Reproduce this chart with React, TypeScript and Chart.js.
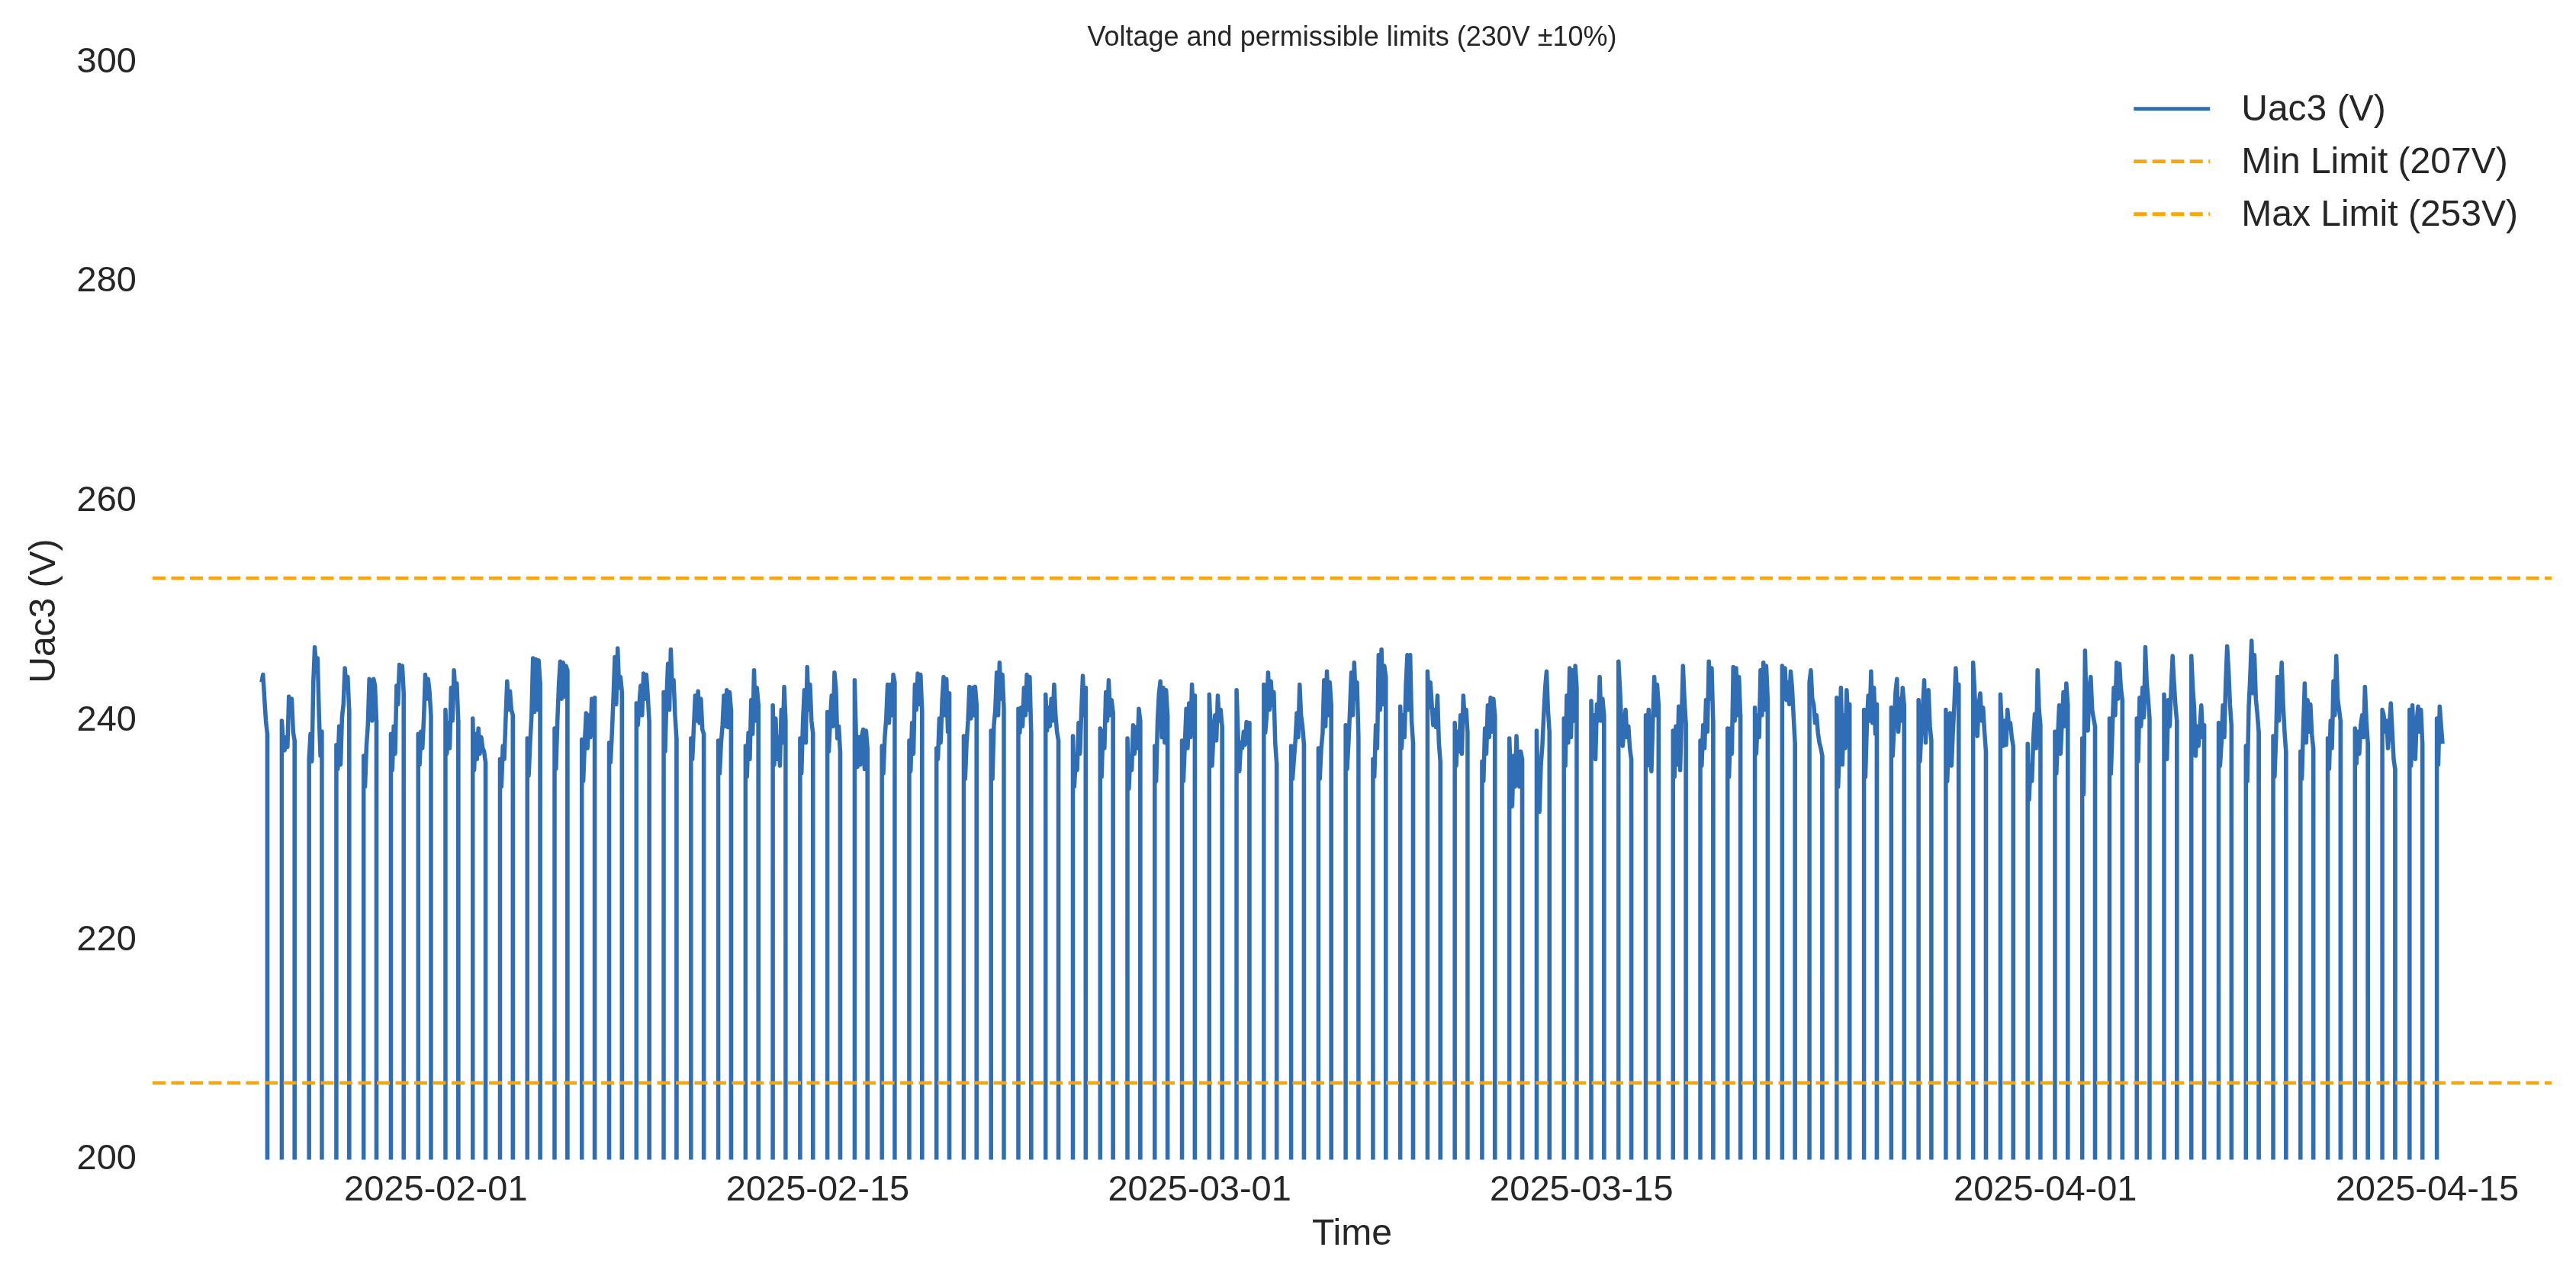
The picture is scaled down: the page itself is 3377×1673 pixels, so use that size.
import { useEffect, useRef } from 'react';
import { Chart, registerables } from 'chart.js';

Chart.register(...registerables);

const chartTitle = 'Voltage and permissible limits (230V ±10%)';
const seriesLabel = 'Uac3 (V)';
const minLabel = 'Min Limit (207V)';
const maxLabel = 'Max Limit (253V)';
const minLimit = 207;
const maxLimit = 253;

const yTicks = [200, 220, 240, 260, 280, 300];
const xTickLabels = ['2025-02-01', '2025-02-15', '2025-03-01', '2025-03-15', '2025-04-01', '2025-04-15'];

// hours of the day at which each reading was taken (daylight only)
const sampleHours = [8.5, 9.75, 11, 12.25, 13.5, 14.75, 16, 17.25, 18.5, 19.75];
// inverter reads 0 V at night
const riseHour = 8.4;
const setHour = 19.85;
const nightValue = 0;

// one row per day, starting 2025-01-25
const janReadings = [
  [null, null, null, null, null, 243.5, 244.2, 242.0, 240.0, 238.8],
  [240.0, 238.0, 237.3, 238.5, 237.6, 242.2, 241.5, 242.0, 239.0, 238.2],
  [236.5, 238.8, 236.3, 243.5, 246.7, 245.0, 245.7, 240.5, 236.8, 239.0],
  [237.8, 235.6, 239.5, 236.0, 240.3, 241.5, 244.8, 243.0, 244.0, 241.0],
  [236.8, 234.0, 237.7, 239.6, 243.8, 243.5, 240.0, 243.8, 243.2, 240.0],
  [238.8, 235.5, 239.5, 237.0, 243.2, 241.5, 245.1, 244.0, 245.0, 242.5],
  [238.8, 236.0, 239.0, 237.5, 240.3, 244.2, 242.0, 243.8, 242.6, 240.5],
];

const febReadings = [
  [241.0, 237.0, 239.8, 237.5, 243.0, 240.0, 244.6, 242.5, 243.4, 240.0],
  [240.2, 235.5, 238.8, 236.5, 239.3, 237.0, 238.5, 237.5, 237.2, 236.2],
  [236.5, 234.0, 237.7, 236.5, 240.2, 243.6, 241.0, 242.7, 241.0, 240.5],
  [238.4, 235.0, 238.0, 240.5, 245.7, 240.8, 245.6, 241.0, 245.5, 243.5],
  [239.3, 235.6, 240.0, 243.3, 245.4, 242.0, 245.3, 242.2, 245.0, 244.6],
  [238.3, 234.5, 238.0, 240.7, 237.5, 240.5, 238.5, 242.0, 240.0, 242.1],
  [238.0, 236.2, 238.9, 242.1, 245.8, 241.5, 246.6, 243.0, 244.0, 242.6],
  [241.6, 239.6, 241.5, 243.2, 240.5, 244.3, 242.0, 244.2, 242.3, 240.0],
  [242.6, 237.2, 242.0, 245.2, 241.0, 246.5, 243.0, 243.7, 240.5, 238.4],
  [238.4, 236.5, 239.5, 242.3, 240.0, 242.7, 239.8, 242.0, 239.2, 238.8],
  [238.2, 235.2, 238.0, 239.6, 242.3, 239.5, 242.8, 239.4, 242.6, 241.0],
  [237.7, 234.9, 238.9, 236.5, 241.9, 238.8, 244.6, 240.0, 243.0, 241.5],
  [241.4, 236.0, 240.2, 236.5, 238.5, 235.9, 241.0, 238.0, 243.1, 240.0],
  [238.4, 235.2, 240.0, 242.8, 238.0, 244.9, 241.0, 243.3, 240.0, 238.9],
  [240.8, 237.2, 240.0, 242.3, 239.5, 244.4, 243.0, 238.4, 239.5, 237.2],
  [243.7, 238.6, 235.8, 238.5, 236.0, 238.6, 239.2, 235.6, 239.1, 237.5],
  [237.7, 235.2, 238.5, 240.2, 243.3, 239.8, 243.3, 240.5, 244.2, 243.5],
  [238.2, 235.4, 239.8, 237.0, 243.3, 241.0, 244.3, 241.5, 244.2, 241.0],
  [237.5, 236.5, 240.2, 238.0, 241.9, 244.0, 240.5, 243.8, 239.0, 242.5],
  [238.6, 234.7, 238.0, 240.0, 243.1, 240.2, 243.0, 240.5, 243.1, 241.5],
  [239.1, 234.7, 239.6, 241.0, 244.4, 240.5, 245.3, 242.0, 244.2, 241.2],
  [241.1, 238.9, 241.2, 239.5, 243.0, 240.5, 244.2, 241.0, 244.0, 239.0],
  [242.4, 239.1, 241.2, 239.5, 242.0, 240.0, 243.3, 240.5, 239.0, 238.2],
  [238.6, 234.0, 236.5, 235.5, 239.8, 237.0, 241.0, 244.1, 240.5, 243.0],
  [239.3, 234.9, 239.1, 237.5, 242.6, 240.0, 243.7, 240.5, 241.9, 240.8],
  [238.4, 233.8, 236.8, 235.5, 239.6, 237.0, 239.4, 237.5, 241.1, 240.0],
  [237.7, 234.5, 240.0, 242.5, 243.6, 238.5, 243.0, 238.0, 242.8, 240.5],
  [238.2, 234.5, 237.8, 241.1, 237.5, 241.6, 238.5, 243.3, 240.0, 242.3],
];

const marReadings = [
  [242.4, 238.9, 235.9, 239.0, 240.5, 238.2, 242.3, 240.0, 241.0, 239.5],
  [242.8, 238.9, 235.4, 238.0, 237.5, 239.0, 237.8, 239.9, 238.5, 239.8],
  [243.3, 238.9, 240.5, 244.4, 241.0, 243.6, 241.4, 242.6, 238.0, 236.1],
  [237.7, 234.7, 236.5, 238.2, 240.7, 238.5, 243.3, 240.5, 239.5, 237.9],
  [237.5, 234.7, 237.5, 238.9, 243.7, 239.5, 244.5, 240.5, 243.5, 241.5],
  [239.6, 235.6, 238.0, 241.0, 244.4, 240.5, 245.3, 242.0, 243.5, 238.5],
  [236.5, 234.9, 239.6, 237.5, 246.0, 241.0, 246.5, 241.5, 245.0, 244.0],
  [241.3, 237.5, 240.5, 238.5, 243.3, 246.0, 241.0, 246.0, 240.0, 238.0],
  [244.5, 241.2, 243.5, 241.5, 239.6, 241.0, 239.4, 242.3, 238.0, 236.3],
  [239.8, 235.9, 239.0, 237.2, 240.5, 237.0, 242.3, 240.0, 241.0, 238.9],
  [236.3, 234.5, 239.3, 237.0, 241.4, 238.5, 242.1, 239.0, 242.0, 240.5],
  [238.4, 235.0, 232.2, 236.8, 234.0, 238.6, 235.5, 234.0, 237.2, 236.5],
  [239.1, 233.5, 231.7, 236.0, 237.7, 240.5, 243.0, 244.5, 241.0, 239.0],
  [240.2, 235.9, 242.3, 238.0, 244.8, 238.5, 244.6, 240.0, 245.0, 243.0],
  [241.8, 237.2, 240.5, 236.5, 241.5, 240.0, 244.0, 240.0, 242.0, 240.5],
  [245.4, 243.0, 240.0, 237.7, 239.5, 241.0, 238.5, 239.5, 237.5, 236.5],
  [240.5, 235.9, 241.0, 237.0, 235.4, 240.0, 244.0, 240.5, 243.3, 241.5],
  [239.1, 234.9, 239.5, 236.0, 241.3, 235.5, 240.0, 245.0, 242.0, 239.8],
  [238.2, 235.9, 239.6, 237.5, 241.9, 239.0, 245.4, 242.0, 244.8, 240.0],
  [239.3, 234.9, 239.3, 237.0, 244.9, 240.0, 244.8, 240.5, 244.0, 240.5],
  [241.2, 237.0, 240.5, 238.5, 244.6, 240.5, 245.3, 241.0, 245.0, 242.0],
  [245.0, 242.0, 244.8, 241.9, 243.5, 241.5, 244.5, 243.0, 240.5, 238.0],
  [243.5, 244.6, 242.0, 241.5, 239.8, 240.5, 238.9, 238.0, 237.5, 236.8],
  [242.1, 234.0, 238.0, 243.0, 236.0, 240.5, 237.5, 242.8, 240.0, 241.5],
  [241.0, 234.9, 239.5, 242.3, 240.0, 244.5, 239.8, 243.0, 238.8, 241.5],
  [241.2, 236.8, 239.5, 242.6, 243.8, 239.0, 242.0, 240.0, 243.0, 241.5],
  [241.9, 236.3, 239.0, 241.3, 243.7, 238.0, 242.0, 242.8, 239.5, 238.2],
  [241.0, 234.5, 238.0, 240.7, 235.9, 239.0, 241.5, 244.8, 242.0, 243.3],
  [245.3, 242.8, 240.0, 238.6, 241.5, 242.5, 240.0, 241.2, 239.0, 237.2],
  [242.4, 239.5, 237.7, 240.0, 237.8, 241.0, 239.5, 239.8, 238.5, 237.7],
  [237.9, 232.8, 235.9, 234.5, 238.4, 240.6, 237.5, 244.6, 241.0, 239.6],
];

const aprReadings = [
  [239.0, 235.2, 238.5, 241.4, 237.0, 240.0, 242.6, 239.5, 243.4, 241.5],
  [238.4, 233.3, 246.4, 240.5, 239.1, 243.0, 244.0, 241.0, 240.2, 239.5],
  [240.2, 235.2, 239.0, 243.0, 240.5, 245.3, 242.0, 245.2, 243.0, 241.9],
  [240.2, 236.3, 242.1, 239.5, 243.0, 240.3, 246.7, 243.5, 242.0, 240.2],
  [242.4, 239.0, 236.5, 241.9, 239.5, 243.0, 245.9, 243.5, 241.4, 240.0],
  [245.9, 243.0, 241.2, 236.8, 239.5, 237.7, 239.5, 241.4, 238.5, 239.6],
  [239.8, 235.9, 238.0, 241.4, 238.5, 243.5, 246.8, 244.6, 241.5, 239.6],
  [237.7, 234.5, 241.2, 244.0, 247.3, 242.5, 246.0, 242.0, 240.7, 239.0],
  [238.6, 234.9, 238.5, 244.0, 240.0, 242.5, 245.3, 241.5, 239.0, 237.2],
  [237.2, 234.7, 239.5, 243.4, 238.0, 241.9, 239.0, 241.5, 238.8, 237.5],
  [238.4, 235.6, 240.0, 237.5, 243.6, 240.5, 245.9, 242.0, 241.0, 240.0],
  [239.3, 236.1, 239.0, 237.0, 239.6, 240.5, 238.5, 243.1, 240.0, 238.0],
  [241.0, 240.5, 239.0, 240.0, 237.5, 239.5, 241.6, 239.0, 236.5, 235.6],
  [241.0, 235.9, 241.4, 238.0, 236.5, 240.0, 241.3, 239.0, 241.0, 238.0],
  [240.2, 236.0, 241.3, 239.5, 237.9, null, null, null, null, null],
];

const monthBlocks: [number, number, (number | null)[][]][] = [
  [0, 25, janReadings],
  [1, 1, febReadings],
  [2, 1, marReadings],
  [3, 1, aprReadings],
];

const HOUR = 3600 * 1000;
const FONT = '"Liberation Sans", Arial, Helvetica, sans-serif';
const TEXT = '#262626';
const BLUE = 'rgb(47,109,180)';
const ORANGE = '#ffa500';
const DASH = [17, 7.5];

function buildSeries() {
  const pts: { x: number; y: number }[] = [];
  monthBlocks.forEach(([month, firstDay, rows]) => {
    rows.forEach((row, i) => {
      const day = Date.UTC(2025, month, firstDay + i);
      if (row[0] !== null) pts.push({ x: day + riseHour * HOUR, y: nightValue });
      row.forEach((v, j) => {
        if (v !== null) pts.push({ x: day + sampleHours[j] * HOUR, y: v });
      });
      if (row[row.length - 1] !== null) pts.push({ x: day + setHour * HOUR, y: nightValue });
    });
  });
  return pts;
}

// legend drawn inside the plot, top right (matplotlib style)
const insideLegend = {
  id: 'insideLegend',
  afterDraw(chart: any) {
    const { ctx, chartArea } = chart;
    const items = chart.data.datasets.map((ds: any) => ({
      label: ds.label,
      color: ds.borderColor,
      dash: ds.borderDash || [],
    }));
    ctx.save();
    ctx.font = `48px ${FONT}`;
    const textW = Math.max(...items.map((it: any) => ctx.measureText(it.label).width));
    const textX = chartArea.right - 44 - textW;
    const h1 = textX - 41;
    const h0 = h1 - 100;
    items.forEach((it: any, i: number) => {
      const y = chartArea.top + 61 + i * 69;
      ctx.beginPath();
      ctx.setLineDash(it.dash);
      ctx.lineWidth = 4.7;
      ctx.strokeStyle = it.color;
      ctx.moveTo(h0, y);
      ctx.lineTo(h1, y);
      ctx.stroke();
      ctx.setLineDash([]);
      ctx.fillStyle = TEXT;
      ctx.textAlign = 'left';
      ctx.textBaseline = 'middle';
      ctx.fillText(it.label, textX, y + 2);
    });
    ctx.restore();
  },
};

const VoltageChart = () => {
  const chartRef = useRef<HTMLCanvasElement>(null);

  useEffect(() => {
    document.body.style.margin = '0';
    const ctx = chartRef.current!.getContext('2d')!;
    const series = buildSeries();
    const first = series[0].x;
    const last = series[series.length - 1].x;
    const pad = (last - first) * 0.05;
    const xMin = first - pad;
    const xMax = last + pad;
    const tickValues = xTickLabels.map((s) => Date.parse(s + 'T00:00:00Z'));

    Chart.defaults.font.family = FONT;
    Chart.defaults.color = TEXT;

    const chartInstance = new Chart(ctx, {
      type: 'line',
      data: {
        datasets: [
          {
            label: seriesLabel,
            data: series,
            borderColor: BLUE,
            borderWidth: 5.5,
            borderJoinStyle: 'round',
            pointRadius: 0,
            tension: 0,
            order: 1,
          },
          {
            label: minLabel,
            data: [{ x: xMin, y: minLimit }, { x: xMax, y: minLimit }],
            borderColor: ORANGE,
            borderWidth: 4.5,
            borderDash: DASH,
            pointRadius: 0,
            order: 0,
          },
          {
            label: maxLabel,
            data: [{ x: xMin, y: maxLimit }, { x: xMax, y: maxLimit }],
            borderColor: ORANGE,
            borderWidth: 4.5,
            borderDash: DASH,
            pointRadius: 0,
            order: 0,
          },
        ],
      },
      options: {
        animation: false,
        responsive: false,
        devicePixelRatio: 1,
        layout: { padding: { left: 0, right: 32, top: 0, bottom: 0 } },
        plugins: {
          legend: { display: false },
          tooltip: { enabled: false },
          title: {
            display: true,
            fullSize: false,
            text: chartTitle,
            color: TEXT,
            font: { size: 36, weight: 'normal' },
            padding: { top: 28.4, bottom: 10.1 },
          },
        },
        scales: {
          x: {
            type: 'linear',
            min: xMin,
            max: xMax,
            grid: { display: false, drawTicks: false },
            border: { display: false },
            afterBuildTicks: (scale: any) => {
              scale.ticks = tickValues.map((v) => ({ value: v }));
            },
            afterFit: (scale: any) => {
              scale.height = 152.5;
            },
            ticks: {
              autoSkip: false,
              maxRotation: 0,
              padding: 12,
              color: TEXT,
              font: { size: 47 },
              callback: (v: any) => {
                const i = tickValues.indexOf(Number(v));
                return i >= 0 ? xTickLabels[i] : '';
              },
            },
            title: {
              display: true,
              text: 'Time',
              color: TEXT,
              font: { size: 48 },
              padding: { top: 0, bottom: 25 },
            },
          },
          y: {
            min: 200,
            max: 300,
            grid: { display: false, drawTicks: false },
            border: { display: false },
            afterBuildTicks: (scale: any) => {
              scale.ticks = yTicks.map((v) => ({ value: v }));
            },
            afterFit: (scale: any) => {
              scale.width = 200;
            },
            ticks: {
              padding: 21,
              color: TEXT,
              font: { size: 47 },
            },
            title: {
              display: true,
              text: seriesLabel,
              color: TEXT,
              font: { size: 48 },
              padding: { top: 30, bottom: 0 },
            },
          },
        },
      },
      plugins: [insideLegend],
    } as any);

    return () => {
      chartInstance.destroy();
    };
  }, []);

  return (
    <div style={{ width: 3377, height: 1673, background: '#fff' }}>
      <canvas ref={chartRef} width={3377} height={1673} style={{ display: 'block' }} />
    </div>
  );
};

export default function App() {
  return <VoltageChart />;
}
